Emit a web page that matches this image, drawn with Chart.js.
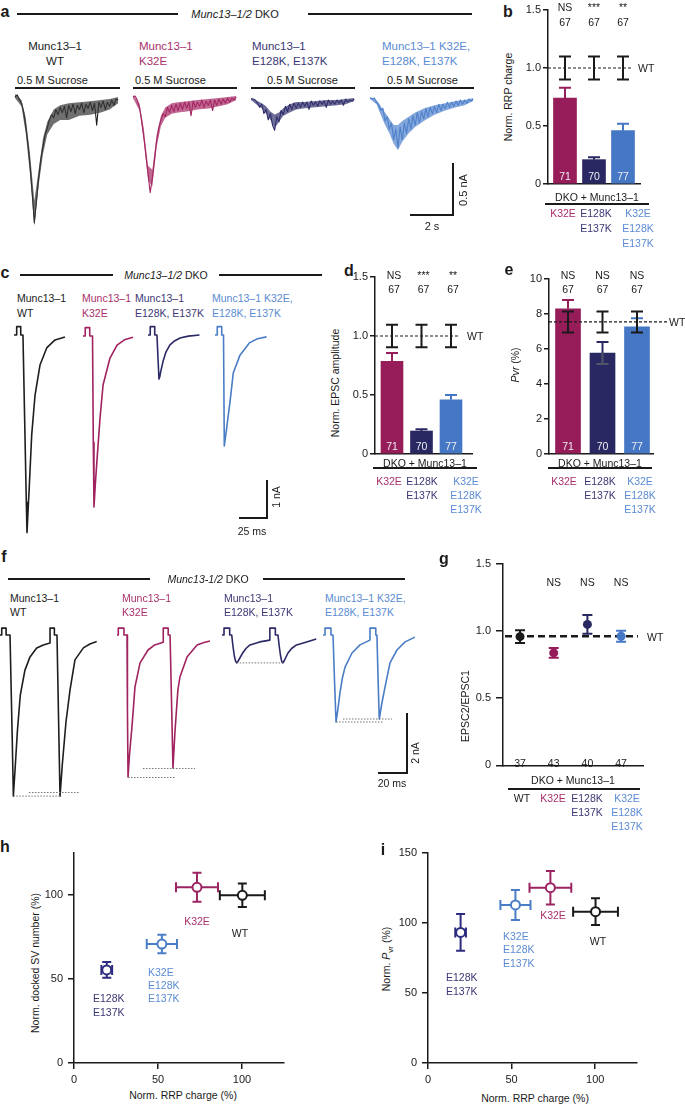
<!DOCTYPE html>
<html><head><meta charset="utf-8">
<script src="https://cdn.jsdelivr.net/npm/chart.js@4.4.1/dist/chart.umd.min.js"></script>
<style>
html,body{margin:0;padding:0;background:#fff;}
#fig{position:relative;width:685px;height:1104px;overflow:hidden;background:#fff;font-family:"Liberation Sans",Arial,Helvetica,sans-serif;color:#1a1a1a;}
.t{position:absolute;white-space:nowrap;font-size:10.5px;line-height:1;}
.L{position:absolute;background:#1a1a1a;}
canvas{position:absolute;}
</style></head><body><div id="fig"></div>
<script>
/* ================= DATA ================= */
const mutants = ['K32E', 'E128K E137K', 'K32E E128K E137K'];
const genotypes = ['WT', 'K32E', 'E128K E137K', 'K32E E128K E137K'];

// b: normalised RRP charge
const rrpMean = [0.74, 0.21, 0.46];
const rrpSem  = [0.09, 0.02, 0.06];
const rrpN    = [71, 70, 77];
const rrpSig  = ['NS', '***', '**'];
const rrpWT   = [1.0, 0.10];
const rrpWTn  = [67, 67, 67];
const normTicks = [0, 0.5, 1.0, 1.5];

// d: normalised EPSC amplitude
const ampMean = [0.785, 0.195, 0.46];
const ampSem  = [0.07, 0.015, 0.04];
const ampN    = [71, 70, 77];
const ampSig  = ['NS', '***', '**'];
const ampWT   = [1.0, 0.095];
const ampWTn  = [67, 67, 67];

// e: Pvr (%)
const pvrMean = [8.3, 5.77, 7.26];
const pvrSem  = [0.5, 0.63, 0.5];
const pvrN    = [71, 70, 77];
const pvrSig  = ['NS', 'NS', 'NS'];
const pvrWT   = [7.55, 0.6];
const pvrWTn  = [67, 67, 67];
const pvrTicks = [0, 2, 4, 6, 8, 10];

// g: paired pulse ratio
const pprMean = [0.957, 0.836, 1.048, 0.96];
const pprSem  = [0.047, 0.036, 0.07, 0.04];
const pprN    = [37, 43, 40, 47];
const pprSig  = ['', 'NS', 'NS', 'NS'];
const pprWTline = 0.96;

// h, i (order: WT, K32E, E128K/E137K, K32E/E128K/E137K)
const rrpPct      = [100.2, 73.2, 19.5, 52.3];
const rrpPctSem   = [13.4, 12.5, 3.2, 9.0];
const dockedPct   = [99.8, 104.6, 55.4, 70.8];
const dockedSem   = [7.0, 8.6, 4.7, 5.5];
const pvrPct      = [108.1, 125.2, 93.3, 112.9];
const pvrPctSem   = [9.5, 11.9, 13.2, 10.7];
const pctTicks    = [0, 50, 100];
const pctTicksI   = [0, 50, 100, 150];

// a: sucrose responses (time s, current nA)
const aTime = [0,0.1,0.2,0.3,0.4,0.5,0.6,0.7,0.8,0.9,1.0,1.1,1.2,1.3,1.4,1.5,1.6,1.7,1.8,1.9,2.0,2.1,2.2,2.3,2.4,2.5,2.6,2.7,2.8,2.9,3.0,3.1,3.2,3.3,3.4,3.5,3.6,3.7,3.8,3.9,4.0,4.1,4.2,4.3,4.4,4.5,4.6,4.7,4.8];
const aWT = [0,0.02,-0.02,-0.06,-0.14,-0.28,-0.45,-0.66,-0.92,-1.21,-1.0,-0.78,-0.6,-0.48,-0.36,-0.3,-0.22,-0.17,-0.2,-0.12,-0.17,-0.1,-0.15,-0.09,-0.2,-0.08,-0.14,-0.07,-0.16,-0.08,-0.12,-0.06,-0.15,-0.07,-0.11,-0.05,-0.13,-0.06,-0.27,-0.05,-0.1,-0.04,-0.12,-0.05,-0.09,-0.03,-0.08,-0.02,-0.03];
const aK32E = [0,0.01,-0.03,-0.1,-0.22,-0.38,-0.56,-0.74,-0.92,-0.78,-0.6,-0.42,-0.3,-0.22,-0.16,-0.19,-0.1,-0.15,-0.08,-0.14,-0.07,-0.13,-0.06,-0.12,-0.05,-0.11,-0.05,-0.18,-0.04,-0.1,-0.05,-0.09,-0.03,-0.1,-0.04,-0.08,-0.03,-0.13,-0.03,-0.08,-0.02,-0.07,-0.02,-0.06,-0.01,-0.05,-0.01,-0.03,0];
const aE128K = [0,0,-0.01,-0.04,-0.08,-0.05,-0.14,-0.1,-0.2,-0.14,-0.25,-0.3,-0.17,-0.22,-0.11,-0.15,-0.07,-0.12,-0.05,-0.1,-0.04,-0.09,-0.04,-0.08,-0.03,-0.07,-0.03,-0.1,-0.02,-0.06,-0.03,-0.07,-0.02,-0.05,-0.02,-0.08,-0.01,-0.05,-0.02,-0.05,-0.01,-0.04,-0.01,-0.06,0,-0.03,-0.01,-0.02,0];
const aTriple = [0,-0.01,0,-0.04,-0.06,-0.12,-0.1,-0.22,-0.18,-0.3,-0.24,-0.4,-0.3,-0.48,-0.28,-0.4,-0.24,-0.34,-0.2,-0.3,-0.17,-0.26,-0.14,-0.24,-0.13,-0.2,-0.1,-0.18,-0.09,-0.15,-0.08,-0.14,-0.06,-0.12,-0.06,-0.1,-0.04,-0.09,-0.04,-0.08,-0.03,-0.07,-0.02,-0.06,-0.02,-0.05,-0.01,-0.03,-0.01];
// a: noise envelopes (lower / upper edge of the band)
const aEnvT = [0, 0.3, 0.5, 0.7, 0.9, 1.1, 1.3, 1.5, 1.8, 2.1, 2.5, 3.0, 3.5, 4.0, 4.4, 4.8];
const aWT_lo = [-0.01, -0.09, -0.35, -0.75, -1.24, -0.85, -0.55, -0.36, -0.26, -0.22, -0.22, -0.18, -0.17, -0.15, -0.12, -0.06];
const aWT_hi = [0.03, -0.03, -0.2, -0.55, -1.0, -0.7, -0.4, -0.24, -0.12, -0.08, -0.06, -0.05, -0.04, -0.03, -0.02, 0];
const aK_lo = [-0.01, -0.13, -0.42, -0.8, -0.86, -0.48, -0.28, -0.2, -0.16, -0.15, -0.14, -0.12, -0.11, -0.09, -0.07, -0.03];
const aK_hi = [0.02, -0.06, -0.3, -0.66, -0.7, -0.36, -0.18, -0.1, -0.06, -0.05, -0.04, -0.03, -0.02, -0.01, 0, 0.01];
const aE_lo = [-0.01, -0.06, -0.09, -0.14, -0.2, -0.28, -0.22, -0.16, -0.13, -0.1, -0.09, -0.08, -0.07, -0.06, -0.05, -0.02];
const aE_hi = [0.01, -0.02, -0.04, -0.07, -0.12, -0.15, -0.13, -0.09, -0.05, -0.03, -0.03, -0.02, -0.01, -0.01, 0, 0.01];
const aT_lo = [-0.01, -0.06, -0.16, -0.26, -0.34, -0.44, -0.5, -0.42, -0.34, -0.28, -0.22, -0.16, -0.12, -0.09, -0.07, -0.03];
const aT_hi = [0.01, -0.02, -0.08, -0.14, -0.2, -0.26, -0.26, -0.22, -0.18, -0.14, -0.1, -0.07, -0.05, -0.03, -0.02, 0];

// c: evoked EPSCs (time ms, current nA)
const cWT_t = [0, 2.4, 2.4, 6, 6, 8, 9.5, 11, 11.6, 12.6, 13.7, 15.8, 18.8, 23.2, 29.2, 36.6, 45.5];
const cWT_i = [0, 0, 0.22, 0.22, 0, 0, -2.2, -4.4, -5.2, -4.6, -3.95, -2.63, -1.58, -0.79, -0.34, -0.13, -0.05];
const cK_t = [0, 2, 2, 6, 6, 8.5, 9.2, 9.8, 11, 12.5, 15.2, 17.9, 24.1, 30.4, 37, 44.6];
const cK_i = [0, 0, 0.22, 0.22, 0, 0, -2.8, -4.5, -3.9, -3.26, -2.16, -1.29, -0.58, -0.24, -0.1, -0.03];
const cE_t = [0, 2, 2, 6, 6, 8, 8.9, 9.8, 10.5, 11.3, 13.4, 16, 19.6, 24, 28.6, 36, 46];
const cE_i = [0, 0, 0.22, 0.22, 0, 0, -0.6, -1.16, -1.1, -0.97, -0.7, -0.45, -0.26, -0.15, -0.08, -0.03, 0];
const cT_t = [0, 2, 2, 6, 6, 7.6, 8.3, 10.4, 13.4, 16.3, 22.3, 31, 38, 46];
const cT_i = [0, 0, 0.22, 0.22, 0, 0, -2.92, -2.45, -1.76, -1.0, -0.53, -0.2, -0.1, -0.05];

// f: paired-pulse EPSCs (time ms, current nA)
const fWT_t = [0, 1.2, 1.2, 4.2, 4.2, 6.9, 7.7, 8.5, 9.2, 10.5, 12, 14, 17.2, 20.7, 25.3, 29.9, 34.5, 34.5, 37.5, 37.5, 39.3, 40, 40.7, 41.4, 43, 45.5, 48.3, 51.7, 57.5, 62, 66.7];
const fWT_i = [0, 0, 0.23, 0.23, 0, 0, -1.8, -3.6, -5.37, -4.4, -3.2, -2.0, -1.17, -0.73, -0.43, -0.33, -0.27, 0.23, 0.23, 0, 0, -1.8, -3.6, -5.37, -4.3, -2.9, -1.83, -0.83, -0.43, -0.3, -0.22];
const fK_t = [0, 0.9, 0.9, 4.8, 4.8, 6.9, 7.2, 7.6, 8.6, 10.3, 12.4, 15.9, 21.4, 26, 31.9, 31.9, 35.3, 35.3, 36.6, 37.6, 38.6, 40, 42, 43.4, 48.3, 55.2, 60, 64.1];
const fK_i = [0, 0, 0.23, 0.23, 0, 0, -2.5, -4.73, -4.0, -3.07, -1.73, -0.93, -0.5, -0.33, -0.24, 0.23, 0.23, 0, 0, -2.2, -4.43, -3.2, -1.83, -1.4, -0.73, -0.33, -0.25, -0.2];
const fE_t = [0, 1.4, 1.4, 5.3, 5.3, 6.7, 7.5, 8.5, 9.4, 10.1, 11, 12.5, 14.5, 16.5, 19.3, 26, 33, 33, 36.8, 36.8, 38.6, 39.4, 40.4, 41.2, 41.8, 42.7, 44, 45.5, 48, 51.4, 58.4, 65];
const fE_i = [0, 0, 0.23, 0.23, 0, 0, -0.35, -0.7, -0.88, -0.93, -0.88, -0.75, -0.58, -0.45, -0.33, -0.23, -0.17, 0.23, 0.23, 0, 0, -0.35, -0.7, -0.88, -0.93, -0.88, -0.75, -0.6, -0.45, -0.33, -0.23, -0.13];
const fT_t = [0, 1.4, 1.4, 5.5, 5.5, 6.9, 8, 9, 10.2, 11.7, 13.3, 15.2, 20, 25.5, 32.4, 32.4, 36.4, 36.4, 37.2, 38, 38.8, 40.5, 42.8, 46.2, 51, 56.6, 63.4];
const fT_i = [0, 0, 0.23, 0.23, 0, 0, -1.6, -2.9, -2.5, -1.93, -1.45, -1.07, -0.6, -0.33, -0.17, 0.23, 0.23, 0, 0, -1.5, -2.8, -2.3, -1.73, -0.93, -0.5, -0.23, -0.07];
// f: dotted peak-reference lines [t1, t2, level]
const fWT_ref = [[9.2, 41.4, -5.37], [20, 55, -5.25]];
const fK_ref  = [[7.6, 40.7, -4.75], [17.9, 53.8, -4.45]];
const fE_ref  = [[10.1, 42, -0.93]];
const fT_ref  = [[9, 41.4, -2.9], [13.8, 47.6, -2.8]];

/* ================= STYLE ================= */
const INK = '#1a1a1a';
const COL = {WT: INK, K: '#961C5A', E: '#2A2862', T: '#4577C4'};
const LAB = {WT: INK, K: '#A8306B', E: '#3B3875', T: '#5B8BD3'};
const TRC = {WT: '#1e1e1e', K: '#A0235F', E: '#2B2965', T: '#4A7DC6'};
const BAND = {WT: 'rgba(55,55,55,0.72)', K: 'rgba(165,40,100,0.7)', E: 'rgba(50,48,110,0.7)', T: 'rgba(80,130,205,0.7)'};
const FONT = '"Liberation Sans", Arial, Helvetica, sans-serif';
Chart.defaults.font.family = FONT;
Chart.defaults.font.size = 11;
Chart.defaults.color = INK;

const fig = document.getElementById('fig');
function T(html, x, y, o = {}) {
  const d = document.createElement('div');
  d.className = 't';
  d.innerHTML = html;
  const tx = o.a === 'l' ? '0' : o.a === 'r' ? '-100%' : '-50%';
  d.style.left = x + 'px'; d.style.top = y + 'px';
  d.style.transform = `translate(${tx},-50%)` + (o.r ? ' rotate(-90deg)' : '');
  if (o.c) d.style.color = o.c;
  if (o.s) d.style.fontSize = o.s + 'px';
  if (o.b) d.style.fontWeight = 'bold';
  fig.appendChild(d);
}
function H(x1, x2, y, w = 1.2) {
  const d = document.createElement('div'); d.className = 'L';
  d.style.cssText += `left:${x1}px;top:${y - w / 2}px;width:${x2 - x1}px;height:${w}px;`;
  fig.appendChild(d);
}
function V(x, y1, y2, w = 1.2) {
  const d = document.createElement('div'); d.className = 'L';
  d.style.cssText += `left:${x - w / 2}px;top:${y1}px;width:${w}px;height:${y2 - y1}px;`;
  fig.appendChild(d);
}
function mkCanvas(b) {
  const c = document.createElement('canvas');
  c.width = b.w; c.height = b.h;
  c.style.left = b.l + 'px'; c.style.top = b.t + 'px';
  c.style.width = b.w + 'px'; c.style.height = b.h + 'px';
  fig.appendChild(c);
  return c.getContext('2d');
}
const base = {devicePixelRatio: 1, animation: false, responsive: false,
  plugins: {legend: {display: false}, tooltip: {enabled: false}}};
function pad(box, area, xAxisH) {
  return {autoPadding: false, padding: {left: 0, top: area.t - box.t,
    right: box.l + box.w - area.r, bottom: box.t + box.h - area.b - xAxisH}};
}
function yAxis(min, max, ticks, fmt, tl, pd, W) {
  return {type: 'linear', position: 'left', min, max,
    afterFit: s => { s.width = W; },
    afterBuildTicks: s => { s.ticks = ticks.map(v => ({value: v})); },
    border: {display: true, color: INK, width: 1.5},
    grid: {display: true, drawOnChartArea: false, drawTicks: true, tickLength: tl, color: INK, lineWidth: 1.5},
    ticks: {color: INK, font: {size: 11}, padding: pd, autoSkip: false, callback: v => fmt(v)}};
}
function xAxisPlain(min, max) {
  return {type: 'linear', position: 'bottom', min, max, offset: false,
    afterFit: s => { s.height = 0; },
    border: {display: true, color: INK, width: 1.5},
    grid: {display: true, drawOnChartArea: false, drawTicks: false, offset: false},
    ticks: {display: false}};
}
function xAxisTicks(min, max, ticks, Hh) {
  return {type: 'linear', position: 'bottom', min, max,
    afterFit: s => { s.height = Hh; },
    afterBuildTicks: s => { s.ticks = ticks.map(v => ({value: v})); },
    border: {display: true, color: INK, width: 1.5},
    grid: {display: true, drawOnChartArea: false, drawTicks: true, tickLength: 6, color: INK, lineWidth: 1.5},
    ticks: {color: INK, font: {size: 11}, padding: 4, autoSkip: false, maxRotation: 0, callback: v => String(v)}};
}
const fmt1 = v => v === 0 ? '0' : v.toFixed(1);

/* ---------- traces ---------- */
function trace(box, x0, y0, pxX, pxY, series, refs, col, lw, band) {
  const ds = [];
  if (band) {
    ds.push({data: band[0].map((t, k) => ({x: t, y: band[2][k]})), borderWidth: 0, pointRadius: 0,
      backgroundColor: band[3], fill: '+1', clip: false});
    ds.push({data: band[0].map((t, k) => ({x: t, y: band[1][k]})), borderWidth: 0, pointRadius: 0,
      fill: false, clip: false});
  }
  (refs || []).forEach(r => ds.push({data: [{x: r[0], y: r[2]}, {x: r[1], y: r[2]}],
    borderColor: '#777', borderWidth: 1, borderDash: [1.5, 1.5], pointRadius: 0, clip: false}));
  series.forEach(s => ds.push({data: s[0].map((t, k) => ({x: t, y: s[1][k]})),
    borderColor: col, borderWidth: lw, pointRadius: 0, tension: 0, clip: false,
    borderJoinStyle: 'round'}));
  new Chart(mkCanvas(box), {type: 'line', data: {datasets: ds}, options: {...base,
    layout: {autoPadding: false, padding: 0},
    scales: {
      x: {type: 'linear', display: false, min: (box.l - x0) / pxX, max: (box.l + box.w - x0) / pxX},
      y: {type: 'linear', display: false, min: -(box.t + box.h - y0) / pxY, max: (y0 - box.t) / pxY}}}});
}

/* ---------- bar panels ---------- */
function barPanel(box, area, c) {
  const plug = {id: 'bp', afterDatasetsDraw(ch) {
    const {ctx, chartArea: A} = ch; const x = ch.scales.x, y = ch.scales.y;
    ctx.save(); ctx.lineWidth = 2;
    c.mean.forEach((m, k) => {
      const px = x.getPixelForValue(k + 1), pt = y.getPixelForValue(m), pe = y.getPixelForValue(m + c.sem[k]);
      ctx.strokeStyle = c.colors[k];
      ctx.beginPath(); ctx.moveTo(px, pt); ctx.lineTo(px, pe); ctx.moveTo(px - 6, pe); ctx.lineTo(px + 6, pe); ctx.stroke();
      if (c.lower && c.lower[k]) {
        const pl = y.getPixelForValue(m - c.sem[k]);
        ctx.strokeStyle = c.lower[k];
        ctx.beginPath(); ctx.moveTo(px, pt); ctx.lineTo(px, pl); ctx.moveTo(px - 6, pl); ctx.lineTo(px + 6, pl); ctx.stroke();
      }
    });
    const pw = y.getPixelForValue(c.wt[0]);
    ctx.strokeStyle = INK; ctx.lineWidth = 1.2; ctx.setLineDash([3, 2]);
    ctx.beginPath(); ctx.moveTo(A.left, pw); ctx.lineTo(x.getPixelForValue(c.dashEnd), pw); ctx.stroke();
    ctx.setLineDash([]); ctx.lineWidth = 2;
    c.mean.forEach((m, k) => {
      const px = x.getPixelForValue(k + 1);
      const a = y.getPixelForValue(c.wt[0] + c.wt[1]), b = y.getPixelForValue(c.wt[0] - c.wt[1]);
      ctx.beginPath(); ctx.moveTo(px, a); ctx.lineTo(px, b);
      ctx.moveTo(px - 6, a); ctx.lineTo(px + 6, a); ctx.moveTo(px - 6, b); ctx.lineTo(px + 6, b); ctx.stroke();
    });
    ctx.font = '10.5px ' + FONT; ctx.textAlign = 'center'; ctx.textBaseline = 'middle';
    ctx.fillStyle = '#eeeef4';
    c.n.forEach((n, k) => ctx.fillText(String(n), x.getPixelForValue(k + 1), y.getPixelForValue(0) - 7));
    ctx.fillStyle = INK;
    c.sig.forEach((s, k) => ctx.fillText(s, x.getPixelForValue(k + 1) + c.txtDx, c.sigY - box.t));
    c.wtn.forEach((s, k) => ctx.fillText(String(s), x.getPixelForValue(k + 1) + c.txtDx, c.nY - box.t));
    ctx.restore();
  }};
  new Chart(mkCanvas(box), {type: 'bar',
    data: {datasets: [{data: c.mean.map((m, k) => ({x: k + 1, y: m})), backgroundColor: c.colors,
      barThickness: c.barW, borderWidth: 0}]},
    options: {...base, layout: pad(box, area, 0),
      scales: {x: xAxisPlain(c.xmin, c.xmax), y: yAxis(0, c.ymax, c.ticks, c.fmt, 5, 2, area.l - box.l)}},
    plugins: [plug]});
}
const barCols = [COL.K, COL.E, COL.T];
const labCols = [LAB.K, LAB.E, LAB.T];
function catLabels(centers, rows, names, cols) {
  names.forEach((nm, k) => nm.split(' ').forEach((s, j) => T(s, centers[k], rows[j], {c: cols[k]})));
}

/* ================= PANEL a ================= */
T('a', 5, 12, {b: true, s: 16});
H(17, 178, 14); H(308, 472, 14);
T('<i>Munc13–1/2</i> DKO', 235, 14, {s: 11});
T('Munc13–1', 55, 47, {s: 11.5}); T('WT', 55, 62, {s: 11.5});
T('Munc13–1', 139, 47, {a: 'l', c: LAB.K, s: 11.5}); T('K32E', 139, 62, {a: 'l', c: LAB.K, s: 11.5});
T('Munc13–1', 252, 47, {a: 'l', c: LAB.E, s: 11.5}); T('E128K, E137K', 252, 62, {a: 'l', c: LAB.E, s: 11.5});
T('Munc13–1 K32E,', 382, 47, {a: 'l', c: LAB.T, s: 11.5}); T('E128K, E137K', 382, 62, {a: 'l', c: LAB.T, s: 11.5});
[[17, 15, 120], [135, 133, 237], [267, 251, 355], [387, 370, 474]].forEach(p => {
  T('0.5 M Sucrose', p[0], 80, {a: 'l', s: 11}); H(p[1], p[2], 88, 1.3);
});
trace({l: 8, t: 86, w: 118, h: 145}, 15, 97, 21.5, 104, [[aTime, aWT]], null, TRC.WT, 1.1, [aEnvT, aWT_lo, aWT_hi, BAND.WT]);
trace({l: 126, t: 86, w: 118, h: 145}, 133, 97, 21.5, 104, [[aTime, aK32E]], null, TRC.K, 1.1, [aEnvT, aK_lo, aK_hi, BAND.K]);
trace({l: 244, t: 86, w: 118, h: 145}, 251, 99, 21.5, 104, [[aTime, aE128K]], null, TRC.E, 1.1, [aEnvT, aE_lo, aE_hi, BAND.E]);
trace({l: 363, t: 86, w: 118, h: 145}, 370, 98, 21.5, 104, [[aTime, aTriple]], null, TRC.T, 1.1, [aEnvT, aT_lo, aT_hi, BAND.T]);
V(453, 163, 216, 2.5); H(410, 454, 215, 2.5);
T('0.5 nA', 463, 190, {r: true, s: 11}); T('2 s', 432, 226, {s: 11});

/* ================= PANEL b ================= */
T('b', 508, 12, {b: true, s: 16});
T('Norm. RRP charge', 508, 97, {r: true});
barPanel({l: 480, t: 0, w: 205, h: 195}, {l: 548, t: 10, r: 640, b: 184},
  {mean: rrpMean, sem: rrpSem, n: rrpN, sig: rrpSig, wt: rrpWT, wtn: rrpWTn, colors: barCols,
   ymax: 1.5, ticks: normTicks, fmt: fmt1, xmin: 0.414, xmax: 3.586, barW: 23, dashEnd: 3.345,
   sigY: 8, nY: 23, txtDx: 0});
T('WT', 638, 68, {a: 'l'});
T('DKO + Munc13–1', 597, 197); H(545, 649, 204, 1.2);
catLabels([563, 596, 638], [213, 228, 243], mutants, labCols);

/* ================= PANEL c ================= */
T('c', 5, 273, {b: true, s: 16});
H(20, 113, 275); H(219, 322, 275);
T('<i>Munc13–1/2</i> DKO', 166, 275);
T('Munc13–1', 17, 298, {a: 'l'}); T('WT', 17, 313, {a: 'l'});
T('Munc13–1', 82, 298, {a: 'l', c: LAB.K}); T('K32E', 82, 313, {a: 'l', c: LAB.K});
T('Munc13–1', 135, 298, {a: 'l', c: LAB.E}); T('E128K, E137K', 135, 313, {a: 'l', c: LAB.E});
T('Munc13–1 K32E,', 212, 298, {a: 'l', c: LAB.T}); T('E128K, E137K', 212, 313, {a: 'l', c: LAB.T});
trace({l: 10, t: 318, w: 66, h: 225}, 14, 335, 1.12, 38, [[cWT_t, cWT_i]], null, TRC.WT, 1.6);
trace({l: 79, t: 318, w: 66, h: 225}, 83, 336, 1.12, 38, [[cK_t, cK_i]], null, TRC.K, 1.6);
trace({l: 144, t: 318, w: 66, h: 225}, 148, 335, 1.12, 38, [[cE_t, cE_i]], null, TRC.E, 1.6);
trace({l: 211, t: 318, w: 66, h: 225}, 215, 335, 1.12, 38, [[cT_t, cT_i]], null, TRC.T, 1.6);
V(267, 480, 519, 2.5); H(239, 268, 518, 2.5);
T('1 nA', 276, 497, {r: true}); T('25 ms', 252, 531);

/* ================= PANEL d ================= */
T('d', 349, 271, {b: true, s: 16});
T('Norm. EPSC amplitude', 335, 383, {r: true});
barPanel({l: 320, t: 265, w: 170, h: 200}, {l: 375, t: 277, r: 472, b: 454},
  {mean: ampMean, sem: ampSem, n: ampN, sig: ampSig, wt: ampWT, wtn: ampWTn, colors: barCols,
   ymax: 1.5, ticks: normTicks, fmt: fmt1, xmin: 0.424, xmax: 3.712, barW: 22, dashEnd: 3.305,
   sigY: 276, nY: 290, txtDx: 2});
T('WT', 467, 336, {a: 'l'});
T('DKO + Munc13–1', 425, 463); H(373, 477, 468, 1.2);
catLabels([389, 422, 466], [481, 495, 509], mutants, labCols);

/* ================= PANEL e ================= */
T('e', 509, 270, {b: true, s: 16});
T('<i>Pvr</i> (%)', 515, 365, {r: true});
barPanel({l: 490, t: 265, w: 195, h: 200}, {l: 549, t: 279, r: 653, b: 454},
  {mean: pvrMean, sem: pvrSem, n: pvrN, sig: pvrSig, wt: pvrWT, wtn: pvrWTn, colors: barCols,
   ymax: 10, ticks: pvrTicks, fmt: v => String(v), xmin: 0.449, xmax: 3.464, barW: 25, dashEnd: 3.87,
   sigY: 276, nY: 290, txtDx: 0, lower: [null, '#55556a', null]});
T('WT', 669, 322, {a: 'l'});
T('DKO + Munc13–1', 600, 463); H(548, 652, 468, 1.2);
catLabels([564, 600, 640], [481, 495, 509], mutants, labCols);

/* ================= PANEL f ================= */
T('f', 4, 557, {b: true, s: 16});
H(8, 150, 579); H(263, 405, 579);
T('<i>Munc13-1/2</i> DKO', 208, 579);
T('Munc13–1', 10, 598, {a: 'l'}); T('WT', 10, 612, {a: 'l'});
T('Munc13–1', 122, 598, {a: 'l', c: LAB.K}); T('K32E', 122, 612, {a: 'l', c: LAB.K});
T('Munc13–1', 224, 598, {a: 'l', c: LAB.E}); T('E128K, E137K', 224, 612, {a: 'l', c: LAB.E});
T('Munc13–1 K32E,', 325, 598, {a: 'l', c: LAB.T}); T('E128K, E137K', 325, 612, {a: 'l', c: LAB.T});
trace({l: 0, t: 615, w: 110, h: 192}, 0, 635, 1.45, 30, [[fWT_t, fWT_i]], fWT_ref, TRC.WT, 1.6);
trace({l: 112, t: 615, w: 108, h: 192}, 117, 635, 1.45, 30, [[fK_t, fK_i]], fK_ref, TRC.K, 1.6);
trace({l: 218, t: 615, w: 105, h: 192}, 222, 635, 1.45, 30, [[fE_t, fE_i]], fE_ref, TRC.E, 1.6);
trace({l: 318, t: 615, w: 105, h: 192}, 323, 635, 1.45, 30, [[fT_t, fT_i]], fT_ref, TRC.T, 1.6);
V(407, 713, 774, 2.5); H(378, 408, 773, 2.5);
T('2 nA', 415, 753, {r: true}); T('20 ms', 392, 783);

/* ================= PANEL g ================= */
T('g', 444, 559, {b: true, s: 16});
T('EPSC2/EPSC1', 465, 706, {r: true});
(function () {
  const box = {l: 440, t: 552, w: 245, h: 225}, area = {l: 503, t: 560, r: 643, b: 771};
  const cols = [COL.WT, COL.K, COL.E, COL.T];
  const plug = {id: 'gp',
    beforeDatasetsDraw(ch) {
      const {ctx, chartArea: A} = ch; const x = ch.scales.x, y = ch.scales.y;
      ctx.save();
      const pw = y.getPixelForValue(pprWTline);
      ctx.strokeStyle = INK; ctx.lineWidth = 2.5; ctx.setLineDash([7, 4]);
      ctx.beginPath(); ctx.moveTo(A.left + 2, pw); ctx.lineTo(x.getPixelForValue(4.5), pw); ctx.stroke();
      ctx.setLineDash([]); ctx.lineWidth = 2;
      pprMean.forEach((m, k) => {
        const px = x.getPixelForValue(k + 1), a = y.getPixelForValue(m + pprSem[k]), b = y.getPixelForValue(m - pprSem[k]);
        ctx.strokeStyle = cols[k];
        ctx.beginPath(); ctx.moveTo(px, a); ctx.lineTo(px, b);
        ctx.moveTo(px - 5, a); ctx.lineTo(px + 5, a); ctx.moveTo(px - 5, b); ctx.lineTo(px + 5, b); ctx.stroke();
      });
      ctx.restore();
    },
    afterDatasetsDraw(ch) {
      const {ctx} = ch; const x = ch.scales.x;
      ctx.save(); ctx.font = '10.5px ' + FONT; ctx.textAlign = 'center'; ctx.textBaseline = 'middle'; ctx.fillStyle = INK;
      pprSig.forEach((s, k) => ctx.fillText(s, x.getPixelForValue(k + 1), 583 - box.t));
      pprN.forEach((n, k) => ctx.fillText(String(n), x.getPixelForValue(k + 1), 764 - box.t));
      ctx.restore();
    }};
  new Chart(mkCanvas(box), {type: 'scatter',
    data: {datasets: [{data: pprMean.map((m, k) => ({x: k + 1, y: m})), pointRadius: 4.5,
      pointBackgroundColor: cols, pointBorderWidth: 0, showLine: false}]},
    options: {...base, layout: pad(box, area, 0),
      scales: {x: xAxisPlain(0.495, 4.65), y: yAxis(0, 1.5, normTicks, fmt1, 7, 5, area.l - box.l)}},
    plugins: [plug]});
})();
T('WT', 647, 637, {a: 'l'});
T('DKO + Munc13–1', 573, 780); H(508, 640, 789, 1.2);
catLabels([522, 553, 587, 627], [798, 812, 826], genotypes, [LAB.WT, LAB.K, LAB.E, LAB.T]);

/* ================= PANELS h, i ================= */
function xyPanel(box, area, xs, xe, ys, ye, ymax, yt) {
  const cols = [COL.WT, '#9C2462', '#2E2C80', '#4A7DC6'];
  const plug = {id: 'xy', beforeDatasetsDraw(ch) {
    const {ctx} = ch; const x = ch.scales.x, y = ch.scales.y;
    ctx.save(); ctx.lineWidth = 2;
    xs.forEach((v, k) => {
      const px = x.getPixelForValue(v), py = y.getPixelForValue(ys[k]);
      const x1 = x.getPixelForValue(v - xe[k]), x2 = x.getPixelForValue(v + xe[k]);
      const y1 = y.getPixelForValue(ys[k] + ye[k]), y2 = y.getPixelForValue(ys[k] - ye[k]);
      ctx.strokeStyle = cols[k];
      ctx.beginPath();
      ctx.moveTo(x1, py); ctx.lineTo(x2, py); ctx.moveTo(x1, py - 5); ctx.lineTo(x1, py + 5); ctx.moveTo(x2, py - 5); ctx.lineTo(x2, py + 5);
      ctx.moveTo(px, y1); ctx.lineTo(px, y2); ctx.moveTo(px - 4.5, y1); ctx.lineTo(px + 4.5, y1); ctx.moveTo(px - 4.5, y2); ctx.lineTo(px + 4.5, y2);
      ctx.stroke();
    });
    ctx.restore();
  }};
  const xH = 24;
  new Chart(mkCanvas(box), {type: 'scatter',
    data: {datasets: [{data: xs.map((v, k) => ({x: v, y: ys[k]})), pointRadius: 4.5, pointBorderWidth: 2,
      pointBackgroundColor: '#fff', pointBorderColor: cols, showLine: false}]},
    options: {...base, layout: pad(box, area, xH),
      scales: {x: xAxisTicks(0, 125, pctTicks, xH), y: yAxis(0, ymax, yt, v => String(v), 6, 5, area.l - box.l)}},
    plugins: [plug]});
}
T('h', 5, 847, {b: true, s: 16});
T('Norm. docked SV number (%)', 35, 963, {r: true});
T('Norm. RRP charge (%)', 183, 1095);
xyPanel({l: 20, t: 840, w: 280, h: 255}, {l: 74, t: 853, r: 284, b: 1063},
  rrpPct, rrpPctSem, dockedPct, dockedSem, 125, pctTicks);
T('K32E', 197, 921, {c: LAB.K}); T('WT', 240, 933);
T('K32E', 148, 972, {a: 'l', c: LAB.T}); T('E128K', 148, 985, {a: 'l', c: LAB.T}); T('E137K', 148, 998, {a: 'l', c: LAB.T});
T('E128K', 93, 998, {a: 'l', c: LAB.E}); T('E137K', 93, 1012, {a: 'l', c: LAB.E});

T('i', 383, 850, {b: true, s: 16});
T('Norm. <i>P</i><sub style="font-size:8px">vr</sub> (%)', 388, 959, {r: true});
T('Norm. RRP charge (%)', 535, 1098);
xyPanel({l: 390, t: 840, w: 270, h: 255}, {l: 428, t: 853, r: 637, b: 1063},
  rrpPct, rrpPctSem, pvrPct, pvrPctSem, 150, pctTicksI);
T('K32E', 553, 915, {c: LAB.K}); T('WT', 598, 941);
T('K32E', 503, 936, {a: 'l', c: LAB.T}); T('E128K', 503, 949, {a: 'l', c: LAB.T}); T('E137K', 503, 963, {a: 'l', c: LAB.T});
T('E128K', 446, 977, {a: 'l', c: LAB.E}); T('E137K', 446, 991, {a: 'l', c: LAB.E});
</script></body></html>
